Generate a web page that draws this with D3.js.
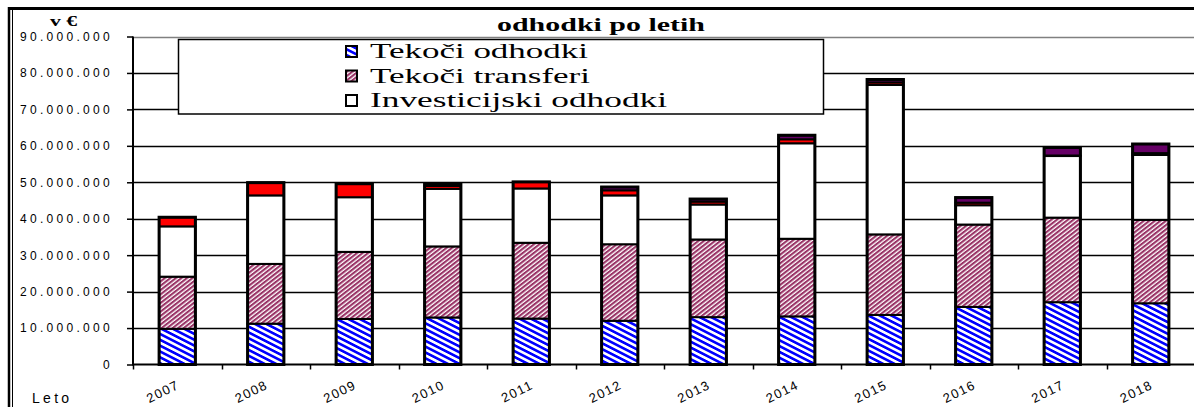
<!DOCTYPE html>
<html>
<head>
<meta charset="utf-8">
<script src="https://cdn.jsdelivr.net/npm/d3@7"></script>
<style>
  body { margin: 0; background: #fff; }
  svg { display: block; }
  .ytick { font-family: "Liberation Sans", Arial, sans-serif; font-size: 12px; letter-spacing: 3.3px; }
  .xtick { font-family: "Liberation Sans", Arial, sans-serif; font-size: 13px; letter-spacing: 1.4px; }
  .serif { font-family: "Liberation Serif", "Times New Roman", serif; }
</style>
</head>
<body>
<div id="chart"></div>
<script>
/* data, in euros */
var years = ["2007", "2008", "2009", "2010", "2011", "2012", "2013", "2014", "2015", "2016", "2017", "2018"];
var tekociOdhodki = [9800000, 11200000, 12500000, 12900000, 12600000, 12000000, 13000000, 13200000, 13600000, 15800000, 17100000, 16800000];
var tekociTransferi = [14300000, 16400000, 18400000, 19500000, 20800000, 21000000, 21300000, 21300000, 22100000, 22600000, 23200000, 22900000];
var investicijskiOdhodki = [13800000, 18800000, 15000000, 15800000, 14900000, 13400000, 9600000, 26200000, 41000000, 5300000, 16900000, 17800000];
var rdeci = [2500000, 3500000, 3700000, 800000, 1800000, 1400000, 800000, 1100000, 700000, 700000, 150000, 500000];
var vijolicni = [0, 0, 0, 400000, 0, 900000, 700000, 1100000, 800000, 1400000, 2200000, 2500000];
var yTicks = [0, 10000000, 20000000, 30000000, 40000000, 50000000, 60000000, 70000000, 80000000, 90000000];
var legendLabels = ["Tekoči odhodki", "Tekoči transferi", "Investicijski odhodki"];

var keys = ["odhodki", "transferi", "investicije", "rdeci", "vijolicni"];
var rows = [];
for (var i = 0; i < years.length; i++) {
  rows.push({
    leto: years[i],
    odhodki: tekociOdhodki[i],
    transferi: tekociTransferi[i],
    investicije: investicijskiOdhodki[i],
    rdeci: rdeci[i],
    vijolicni: vijolicni[i]
  });
}

var width = 1194;
var height = 407;
var plotLeft = 133, plotRight = 1195, plotTop = 36.5, plotBottom = 364.5;

var svg = d3.select("div#chart").append("svg")
            .attr("width", width)
            .attr("height", height);

/* fill patterns */
var defs = svg.append("defs");
var p1 = defs.append("pattern")
             .attr("id", "modra")
             .attr("patternUnits", "userSpaceOnUse")
             .attr("width", 10).attr("height", 5.2)
             .attr("patternTransform", "rotate(27)");
p1.append("rect").attr("width", 10).attr("height", 5.2).attr("fill", "#fff");
p1.append("rect").attr("width", 10).attr("height", 2.6).attr("fill", "#0000ff");

var p2 = defs.append("pattern")
             .attr("id", "bordo")
             .attr("patternUnits", "userSpaceOnUse")
             .attr("width", 10).attr("height", 3.4)
             .attr("patternTransform", "rotate(-38)");
p2.append("rect").attr("width", 10).attr("height", 3.4).attr("fill", "#fff");
p2.append("rect").attr("width", 10).attr("height", 2.1).attr("fill", "#993366");

var fills = {
  odhodki: "url(#modra)",
  transferi: "url(#bordo)",
  investicije: "#ffffff",
  rdeci: "#ff0000",
  vijolicni: "#660066"
};

var x = d3.scaleBand()
          .domain(years)
          .range([plotLeft, plotRight])
          .paddingInner(0.59)
          .paddingOuter(0.295);

var y = d3.scaleLinear()
          .domain([0, 90000000])
          .range([plotBottom, plotTop]);

/* outer frame */
svg.append("line").attr("x1", 8).attr("x2", width).attr("y1", 8.5).attr("y2", 8.5)
   .attr("stroke", "#000").attr("stroke-width", 3);
svg.append("line").attr("x1", 9).attr("x2", 9).attr("y1", 7).attr("y2", height)
   .attr("stroke", "#000").attr("stroke-width", 2.5);
svg.append("line").attr("x1", 12.5).attr("x2", 12.5).attr("y1", 10).attr("y2", height)
   .attr("stroke", "#000").attr("stroke-width", 1);

/* gridlines */
svg.append("g")
   .selectAll("line")
   .data(yTicks.slice(1))
   .enter()
   .append("line")
   .attr("x1", plotLeft)
   .attr("x2", width)
   .attr("y1", function(d) { return Math.round(y(d)) + 0.5; })
   .attr("y2", function(d) { return Math.round(y(d)) + 0.5; })
   .attr("stroke", function(d) { return d == 90000000 ? "#808080" : "#000"; })
   .attr("stroke-width", 1.5);

/* y axis */
var fmt = function(d) { return d3.format(",")(d).replace(/,/g, "."); };
var yAxis = d3.axisLeft(y)
              .tickValues(yTicks)
              .tickSize(6)
              .tickPadding(14)
              .tickFormat(fmt);
var gy = svg.append("g")
            .attr("transform", "translate(" + plotLeft + ",0)")
            .call(yAxis);
gy.select(".domain").remove();
gy.selectAll(".tick line").attr("stroke", "#000").attr("stroke-width", 1.5);
gy.selectAll(".tick text").attr("class", "ytick").attr("fill", "#000");
svg.append("line").attr("x1", plotLeft).attr("x2", plotLeft).attr("y1", plotTop).attr("y2", plotBottom + 1)
   .attr("stroke", "#000").attr("stroke-width", 2);

/* stacked bars */
var series = d3.stack().keys(keys)(rows);
var bars = svg.append("g");
bars.selectAll("g")
    .data(series)
    .enter()
    .append("g")
    .attr("fill", function(d) { return fills[d.key]; })
    .selectAll("rect")
    .data(function(d) { return d.filter(function(s) { return s[1] - s[0] > 0; }); })
    .enter()
    .append("rect")
    .attr("x", function(d) { return x(d.data.leto); })
    .attr("width", x.bandwidth())
    .attr("y", function(d) { return y(d[1]); })
    .attr("height", function(d) { return y(d[0]) - y(d[1]); })
    .attr("stroke", "#000")
    .attr("stroke-width", 2);

/* heavy outline round each column */
bars.selectAll("rect.obroba")
    .data(series[series.length - 1])
    .enter()
    .append("rect")
    .attr("class", "obroba")
    .attr("x", function(d) { return x(d.data.leto); })
    .attr("width", x.bandwidth())
    .attr("y", function(d) { return y(d[1]); })
    .attr("height", function(d) { return y(0) - y(d[1]); })
    .attr("fill", "none")
    .attr("stroke", "#000")
    .attr("stroke-width", 3);

/* x axis */
svg.append("line").attr("x1", plotLeft).attr("x2", width).attr("y1", plotBottom).attr("y2", plotBottom)
   .attr("stroke", "#000").attr("stroke-width", 2);
var bounds = d3.range(years.length + 1).map(function(i) { return plotLeft + i * x.step(); });
svg.append("g")
   .selectAll("line")
   .data(bounds)
   .enter()
   .append("line")
   .attr("x1", function(d) { return Math.round(d) + 0.5; })
   .attr("x2", function(d) { return Math.round(d) + 0.5; })
   .attr("y1", plotBottom)
   .attr("y2", plotBottom + 5)
   .attr("stroke", "#000")
   .attr("stroke-width", 1.5);

svg.append("g")
   .selectAll("text")
   .data(years)
   .enter()
   .append("text")
   .attr("class", "xtick")
   .attr("text-anchor", "end")
   .attr("transform", function(d) {
     var cx = x(d) + x.bandwidth() / 2;
     return "translate(" + (cx + 3) + "," + 388 + ") rotate(-26)";
   })
   .text(function(d) { return d; });

svg.append("text")
   .attr("class", "ytick")
   .attr("x", 32)
   .attr("y", 403)
   .style("font-size", "14px")
   .text("Leto");

/* title and unit */
svg.append("text")
   .attr("class", "serif")
   .attr("x", 497)
   .attr("y", 31)
   .attr("font-weight", "bold")
   .attr("font-size", 18)
   .attr("textLength", 208)
   .attr("lengthAdjust", "spacingAndGlyphs")
   .text("odhodki po letih");

svg.append("text")
   .attr("class", "serif")
   .attr("x", 50)
   .attr("y", 26)
   .attr("font-weight", "bold")
   .attr("font-size", 14)
   .attr("textLength", 27)
   .attr("lengthAdjust", "spacingAndGlyphs")
   .text("v €");

/* legend */
var legend = svg.append("g");
legend.append("rect")
      .attr("x", 178.5).attr("y", 39.5)
      .attr("width", 645).attr("height", 74.5)
      .attr("fill", "#fff")
      .attr("stroke", "#000")
      .attr("stroke-width", 1.5);
var legendFills = [fills.odhodki, fills.transferi, fills.investicije];
var legendLen = [218, 220, 297];
var li = legend.selectAll("g.item")
               .data(legendLabels)
               .enter()
               .append("g")
               .attr("class", "item")
               .attr("transform", function(d, i) { return "translate(0," + (58 + i * 24.5) + ")"; });
li.append("rect")
  .attr("x", 346).attr("y", -12)
  .attr("width", 11).attr("height", 11)
  .attr("fill", function(d, i) { return legendFills[i]; })
  .attr("stroke", "#000")
  .attr("stroke-width", 2);
li.append("text")
  .attr("class", "serif")
  .attr("x", 370)
  .attr("y", 0)
  .attr("font-size", 21)
  .attr("textLength", function(d, i) { return legendLen[i]; })
  .attr("lengthAdjust", "spacingAndGlyphs")
  .text(function(d) { return d; });
</script>
</body>
</html>
